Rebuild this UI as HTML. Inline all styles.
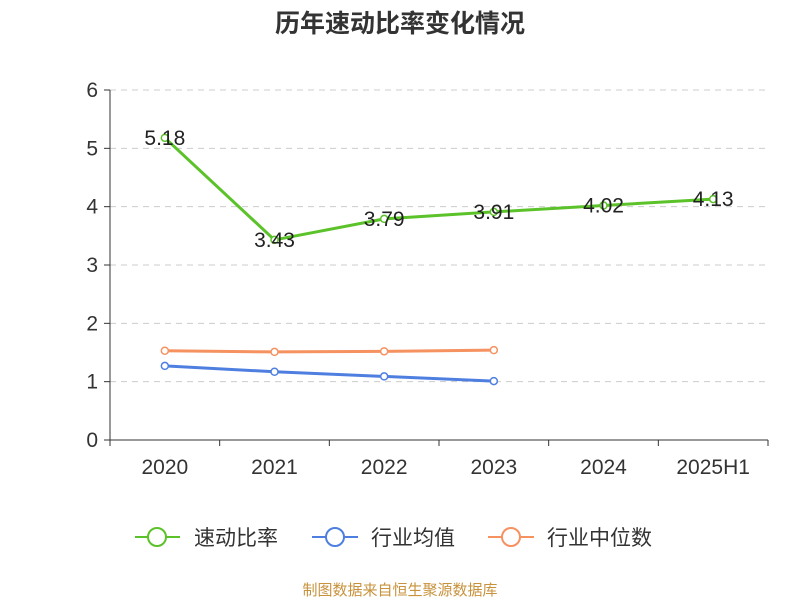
<!DOCTYPE html>
<html><head><meta charset="utf-8"><style>
body{margin:0;background:#fff;}
svg text{font-family:"Liberation Sans","Noto Sans CJK SC",sans-serif;}
</style></head><body>
<svg width="800" height="600" id="c">
<text x="400" y="32" text-anchor="middle" font-size="25" font-weight="bold" fill="#333">历年速动比率变化情况</text>
<g id="grid"></g>
<g id="axes"></g>
<g id="series"></g>
<g>
<g><line x1="135" y1="537" x2="180" y2="537" stroke="#5cc22a" stroke-width="2"/><circle cx="157" cy="537" r="9" fill="#fff" stroke="#5cc22a" stroke-width="2"/><text x="194" y="545" font-size="21" fill="#333">速动比率</text></g>
<g><line x1="312" y1="537" x2="358" y2="537" stroke="#4e7fe0" stroke-width="2"/><circle cx="335" cy="537" r="9" fill="#fff" stroke="#4e7fe0" stroke-width="2"/><text x="371" y="545" font-size="21" fill="#333">行业均值</text></g>
<g><line x1="488" y1="537" x2="534" y2="537" stroke="#f59260" stroke-width="2"/><circle cx="511" cy="537" r="9" fill="#fff" stroke="#f59260" stroke-width="2"/><text x="547" y="545" font-size="21" fill="#333">行业中位数</text></g>
</g>
<text x="400" y="595" text-anchor="middle" font-size="15" fill="#c8923c">制图数据来自恒生聚源数据库</text>
</svg>
<script>
const categories=["2020","2021","2022","2023","2024","2025H1"];
const quickRatio=[5.18,3.43,3.79,3.91,4.02,4.13];
const industryMean=[1.27,1.17,1.09,1.01];
const industryMedian=[1.53,1.51,1.52,1.54];
const yTicks=[0,1,2,3,4,5,6];
const NS="http://www.w3.org/2000/svg";
const x0=110,x1=768,y0=440,y1=90,yMax=6;
const bw=(x1-x0)/categories.length;
const X=i=>x0+bw*(i+0.5);
const Y=v=>y0-(v/yMax)*(y0-y1);
function mk(tag,attrs,parent){const e=document.createElementNS(NS,tag);for(const k in attrs)e.setAttribute(k,attrs[k]);parent.appendChild(e);return e;}
const grid=document.getElementById('grid'),axes=document.getElementById('axes'),series=document.getElementById('series');
yTicks.forEach(t=>{
 if(t>0){const l=mk('line',{x1:x0,x2:x1,y1:Y(t),y2:Y(t),stroke:'#ccc','stroke-dasharray':'6,5'},grid);
 
 }
 mk('line',{x1:x0-6,x2:x0,y1:Y(t),y2:Y(t),stroke:'#333'},axes);
 const tx=mk('text',{x:x0-12,y:Y(t)+7,'text-anchor':'end','font-size':'21',fill:'#333'},axes);tx.textContent=t;
 
 
});
mk('line',{x1:x0,x2:x0,y1:y1,y2:y0,stroke:'#333'},axes);
mk('line',{x1:x0,x2:x1,y1:y0,y2:y0,stroke:'#333'},axes);
for(let i=0;i<=categories.length;i++)mk('line',{x1:x0+bw*i,x2:x0+bw*i,y1:y0,y2:y0+6,stroke:'#333'},axes);
categories.forEach((c,i)=>{const tx=mk('text',{x:X(i),y:474,'text-anchor':'middle','font-size':'21',fill:'#333'},axes);tx.textContent=c;
 
 });
function drawLine(vals,color,name,labels){
 const g=mk('g',{},series);
 
 
 mk('polyline',{points:vals.map((v,i)=>X(i)+','+Y(v)).join(' '),fill:'none',stroke:color,'stroke-width':3},g);
 vals.forEach((v,i)=>{const c=mk('circle',{cx:X(i),cy:Y(v),r:3.5,fill:'#fff',stroke:color,'stroke-width':1.5},g);
  
  
  if(labels){const t=mk('text',{x:X(i),y:Y(v)+7,'text-anchor':'middle','font-size':'21',fill:'#222'},g);t.textContent=v.toFixed(2);
   
   }
 });
}
drawLine(industryMedian,'#f59260','industry-median-line',false);
drawLine(industryMean,'#4e7fe0','industry-mean-line',false);
drawLine(quickRatio,'#5cc22a','quick-ratio-line',true);
</script>
</body></html>
